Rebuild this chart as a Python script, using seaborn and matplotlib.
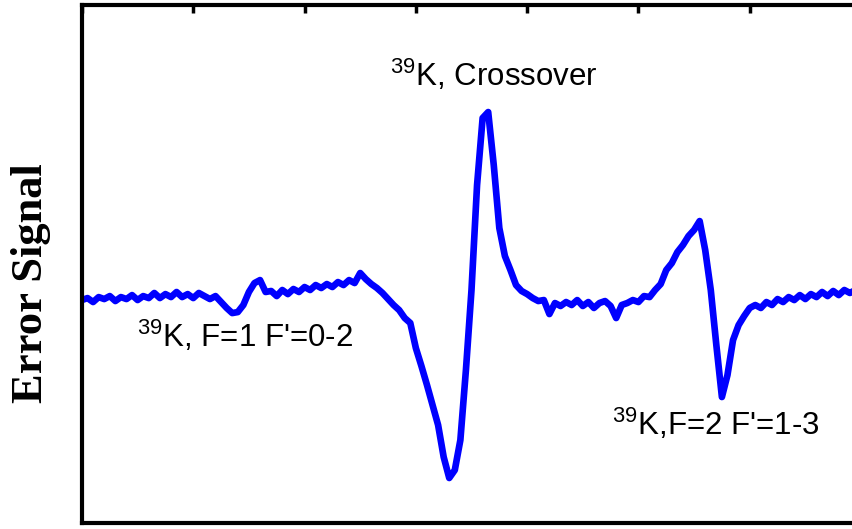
import matplotlib
matplotlib.use("Agg")
import matplotlib.pyplot as plt
import numpy as np
import pandas as pd
import seaborn as sns

# detuning (MHz) and error signal (arb. units)
detuning = np.arange(0, 700, 5)
signal = [
    0.008, 0.024, -0.008, 0.032, 0.016, 0.040, 0.000, 0.032, 0.016, 0.048,
    0.008, 0.040, 0.024, 0.065, 0.024, 0.056, 0.032, 0.073, 0.032, 0.056,
    0.024, 0.065, 0.040, 0.016, 0.040, -0.008, -0.056, -0.097, -0.089, -0.032,
    0.073, 0.145, 0.169, 0.073, 0.081, 0.040, 0.089, 0.056, 0.097, 0.073,
    0.113, 0.089, 0.129, 0.105, 0.137, 0.113, 0.153, 0.129, 0.169, 0.145,
    0.226, 0.177, 0.137, 0.105, 0.065, 0.016, -0.032, -0.073, -0.137, -0.177,
    -0.379, -0.524, -0.677, -0.839, -1.000, -1.258, -1.427, -1.363, -1.121, -0.556,
    0.089, 0.935, 1.476, 1.524, 1.097, 0.589, 0.363, 0.250, 0.129, 0.081,
    0.056, 0.024, 0.000, 0.008, -0.105, -0.016, -0.040, -0.008, -0.032, 0.008,
    -0.040, -0.008, -0.056, -0.016, 0.000, -0.040, -0.137, -0.032, -0.016, 0.008,
    -0.008, 0.040, 0.032, 0.089, 0.137, 0.250, 0.306, 0.395, 0.452, 0.524,
    0.573, 0.645, 0.411, 0.089, -0.355, -0.774, -0.597, -0.315, -0.194, -0.121,
    -0.056, -0.032, -0.056, -0.008, -0.032, 0.016, -0.008, 0.032, 0.008, 0.048,
    0.016, 0.056, 0.032, 0.073, 0.040, 0.081, 0.048, 0.089, 0.065, 0.089,
]

labels = [r"$\mathregular{^{39}}$K, Crossover",
          r"$\mathregular{^{39}}$K, F=1 F'=0-2",
          r"$\mathregular{^{39}}$K,F=2 F'=1-3"]
label_x = [277, 49, 476]
label_y = [1.734, -0.371, -1.081]

df = pd.DataFrame({"Detuning": detuning, "Signal": signal})

sns.set_style("white")
plt.rcParams["font.family"] = ["Liberation Sans", "DejaVu Sans"]
plt.rcParams["mathtext.fontset"] = "custom"
plt.rcParams["mathtext.rm"] = "Liberation Sans"
plt.rcParams["text.color"] = "black"

fig = plt.figure(figsize=(8.53, 5.29), dpi=100)
ax = fig.add_axes([0.0961, 0.0113, 0.9133, 0.9792])

sns.lineplot(data=df, x="Detuning", y="Signal", ax=ax, color="#0000ff",
             linewidth=4.8, solid_joinstyle="round", solid_capstyle="round")

ax.set_xlim(0, 700)
ax.set_ylim(-1.790, 2.387)
ax.set_xticks(range(0, 701, 100))
ax.set_yticks([-1, 0, 1, 2])
ax.tick_params(direction="in", length=6, width=2.5, top=True, right=True,
               labelbottom=False, labelleft=False, color="black")
for sp in ax.spines.values():
    sp.set_linewidth(3)
    sp.set_color("black")

ax.set_xlabel("")
ax.set_ylabel("Error Signal", fontsize=32, fontweight="bold",
              family="Liberation Serif", color="black")
ax.yaxis.set_label_coords(-0.04, 0.463)

for t, x, y in zip(labels, label_x, label_y):
    ax.text(x, y, t, fontsize=22.5, ha="left", va="baseline", color="black")

fig.savefig("out.png", dpi=100)
